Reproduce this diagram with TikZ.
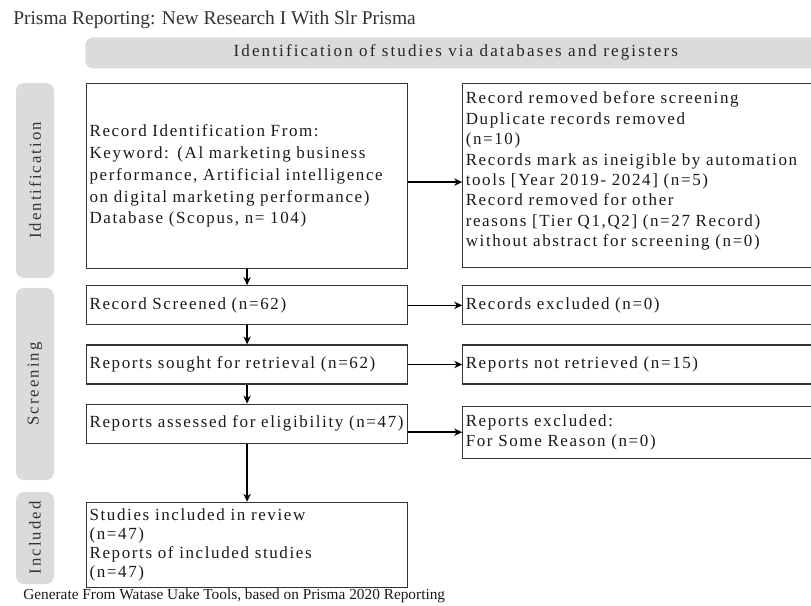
\documentclass[tikz,border=0pt]{standalone}
\usepackage{fontspec}
\setmainfont{Liberation Serif}
\newfontfamily\spacedfont{Liberation Serif}[LetterSpace=9.5]
\newfontfamily\widefont{Liberation Serif}[LetterSpace=12.5]
\usetikzlibrary{positioning, arrows.meta}

\begin{document}
\begin{tikzpicture}[
        x=0.75pt, y=-0.75pt,
        phase/.style={rectangle, rounded corners=6pt, fill=black!14, minimum height=28.5pt, rotate=90, font=\widefont\fontsize{12.5}{14}\selectfont, text=black!80},
        banner/.style={rectangle, rounded corners=6pt, fill=black!14, minimum width=555.75pt, minimum height=23.25pt, font=\widefont\fontsize{12.75}{14}\selectfont, text=black!85},
        mainbox/.style={rectangle, draw=black!80, line width=0.9pt, minimum width=240.75pt, text width=236.25pt, inner xsep=2.25pt, align=left, font=\spacedfont\fontsize{12.75}{16.3}\selectfont, text=black!90},
        sidebox/.style={rectangle, draw=black!80, line width=0.9pt, minimum width=270pt, text width=265.5pt, inner xsep=2.25pt, align=left, font=\spacedfont\fontsize{12.75}{15.3}\selectfont, text=black!90},
        arrow/.style={-{Stealth[length=6pt, width=5.5pt]}, line width=1.2pt, color=black}
    ]
        \useasboundingbox (0,0) rectangle (811,606);

        \node[anchor=base west, inner sep=0pt, font=\fontsize{14.6}{16}\selectfont, text=black!80] (title) at (13,25) {Prisma Reporting: New Research I With Slr Prisma};
        \node[banner, anchor=north west] (header) at (85,37) {Identification of studies via databases and registers};

        \node[phase, minimum width=146.25pt] (idphase) at (35,180.5) {Identification};
        \node[phase, minimum width=144pt] (scphase) at (35,384) {Screening};
        \node[phase, minimum width=69pt] (inphase) at (35,538) {Included};

        \node[mainbox, minimum height=138.75pt, anchor=north west] (ident) at (86,83) {Record Identification From:\\Keyword: (Al marketing business\\performance, Artificial intelligence\\on digital marketing performance)\\Database (Scopus, n= 104)};
        \node[mainbox, minimum height=29.25pt, below=12pt of ident] (screened) {Record Screened (n=62)};
        \node[mainbox, minimum height=29.25pt, below=14.25pt of screened] (sought) {Reports sought for retrieval (n=62)};
        \node[mainbox, minimum height=29.25pt, below=14.25pt of sought] (assessed) {Reports assessed for eligibility (n=47)};
        \node[mainbox, minimum height=63.75pt, below=43.5pt of assessed, font=\spacedfont\fontsize{12.75}{14.25}\selectfont] (included) {Studies included in review\\(n=47)\\Reports of included studies\\(n=47)};

        \node[sidebox, minimum height=138pt, right=40.5pt of ident.north east, anchor=north west] (removed) {Record removed before screening\\Duplicate records removed\\(n=10)\\Records mark as ineigible by automation\\tools [Year 2019- 2024] (n=5)\\Record removed for other\\reasons [Tier Q1,Q2] (n=27 Record)\\without abstract for screening (n=0)\\[-6pt]\mbox{}};
        \node[sidebox, minimum height=29.25pt, right=40.5pt of screened.north east, anchor=north west] (excluded) {Records excluded (n=0)};
        \node[sidebox, minimum height=29.25pt, right=40.5pt of sought.north east, anchor=north west] (notretrieved) {Reports not retrieved (n=15)};
        \node[sidebox, minimum height=39pt, right=40.5pt of assessed.north east, anchor=north west, yshift=-1.5pt] (notelig) {Reports excluded:\\For Some Reason (n=0)};

        \node[anchor=base west, inner sep=0pt, font=\fontsize{11.5}{13}\selectfont, text=black!90] (footer) at (23,599) {Generate From Watase Uake Tools, based on Prisma 2020 Reporting};

        \draw[arrow] (ident) -- (screened);
        \draw[arrow] (screened) -- (sought);
        \draw[arrow] (sought) -- (assessed);
        \draw[arrow] (assessed) -- (included);
        \draw[arrow] ([yshift=-4.5pt]ident.east) -- ([yshift=-4.5pt]ident.east -| removed.west);
        \draw[arrow] (screened.east) -- (screened.east -| excluded.west);
        \draw[arrow] (sought.east) -- (sought.east -| notretrieved.west);
        \draw[arrow] (assessed.east |- notelig.west) -- (notelig.west);
    \end{tikzpicture}
\end{document}
